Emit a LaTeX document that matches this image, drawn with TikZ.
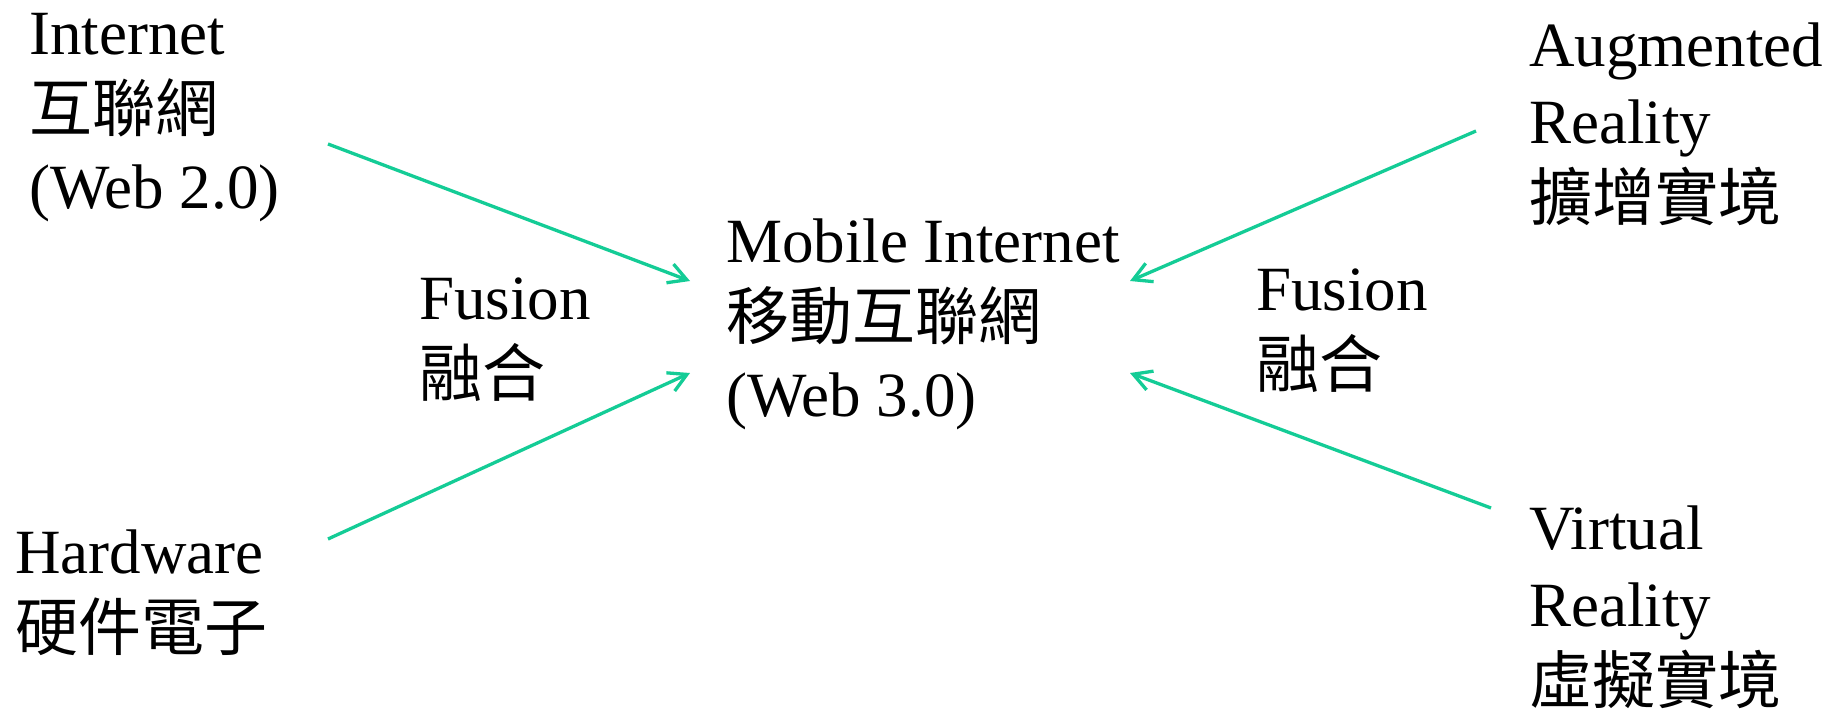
\documentclass[tikz,border=0pt]{standalone}
\usepackage{fontspec}
\setmainfont{Liberation Serif}
\newfontfamily\cjk{Noto Sans CJK TC}
\usetikzlibrary{arrows.meta}
\definecolor{fusegreen}{RGB}{20,204,150}
\tikzset{
  lbl/.style={anchor=base west, inner sep=0pt, align=left, font=\fontsize{63}{77}\selectfont},
  fusearrow/.style={draw=fusegreen, line width=3.3pt, -{Straight Barb[length=18pt,width=20pt,line width=3.3pt]}}
}
\begin{document}
\begin{tikzpicture}[x=1pt,y=-1pt]
\useasboundingbox[fill=white] (0,0) rectangle (1837,715);
\node[lbl] (inet) at (29,208) {Internet\\{\cjk 互聯網}\\(Web 2.0)};
\node[lbl] (hw) at (15,650) {Hardware\\{\cjk 硬件電子}};
\node[lbl] (fusl) at (419,396) {Fusion\\{\cjk 融合}};
\node[lbl] (mob) at (726,416) {Mobile Internet\\{\cjk 移動互聯網}\\(Web 3.0)};
\node[lbl] (fusr) at (1256,387) {Fusion\\{\cjk 融合}};
\node[lbl] (ar) at (1529,220) {Augmented\\Reality\\{\cjk 擴增實境}};
\node[lbl] (vr) at (1529,703) {Virtual\\Reality\\{\cjk 虛擬實境}};
\coordinate (s1) at (328,144);
\coordinate (t1) at (690,281);
\coordinate (s2) at (328,539);
\coordinate (t2) at (690,373);
\coordinate (s3) at (1476,131);
\coordinate (t3) at (1130,281);
\coordinate (s4) at (1491,508);
\coordinate (t4) at (1130,373);
\draw[fusearrow] (s1) -- (t1);
\draw[fusearrow] (s2) -- (t2);
\draw[fusearrow] (s3) -- (t3);
\draw[fusearrow] (s4) -- (t4);
\end{tikzpicture}
\end{document}
